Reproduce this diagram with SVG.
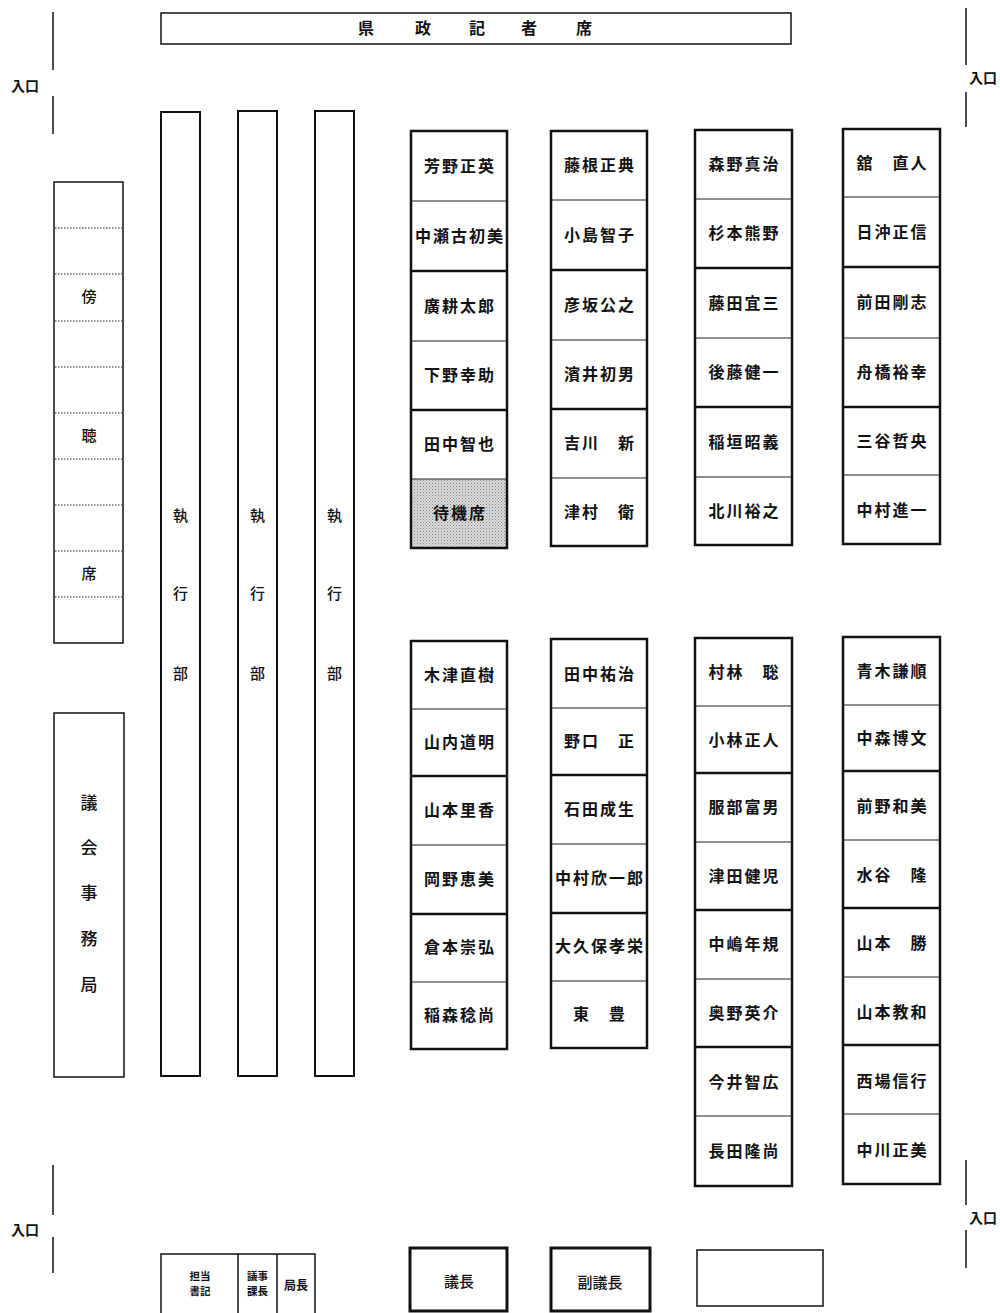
<svg xmlns="http://www.w3.org/2000/svg" width="1000" height="1313" viewBox="0 0 1000 1313">
<defs>
<pattern id="dots" width="3" height="3" patternUnits="userSpaceOnUse">
<rect width="3" height="3" fill="#dcdcdc"/>
<rect width="1" height="1" fill="#808080"/>
<rect x="1.5" y="1.5" width="1" height="1" fill="#999"/>
</pattern>
</defs>
<style>
text{font-family:"Noto Sans CJK JP","Noto Sans CJK SC",sans-serif;fill:#111;}
.nm{font-size:16px;font-weight:700;letter-spacing:2px;text-anchor:middle;}
.lb{font-size:15px;font-weight:500;text-anchor:middle;}
.big{font-size:17px;font-weight:500;text-anchor:middle;}
.ent{font-size:14px;font-weight:700;}
.sm{font-size:10.5px;font-weight:700;text-anchor:middle;}
.outer{fill:#fff;stroke:#111;stroke-width:2.5;}
.thick{stroke:#111;stroke-width:2.5;}
.thin{stroke:#222;stroke-width:1;}
.box{fill:#fff;stroke:#111;stroke-width:1.5;}
.exec{fill:#fff;stroke:#111;stroke-width:2;}
.dot{stroke:#222;stroke-width:1;stroke-dasharray:1.5 1.5;}
.wall{stroke:#111;stroke-width:1.5;}
</style>
<rect width="1000" height="1313" fill="#fff"/>

<g id="entrances">
<line class="wall" x1="53" y1="12" x2="53" y2="70"/>
<line class="wall" x1="53" y1="96" x2="53" y2="134"/>
<text class="ent" x="11" y="91">入口</text>
<line class="wall" x1="966" y1="8" x2="966" y2="65"/>
<line class="wall" x1="966" y1="92" x2="966" y2="127"/>
<text class="ent" x="969" y="83">入口</text>
<line class="wall" x1="53" y1="1165" x2="53" y2="1215"/>
<line class="wall" x1="53" y1="1237" x2="53" y2="1273"/>
<text class="ent" x="11" y="1235">入口</text>
<line class="wall" x1="966" y1="1160" x2="966" y2="1205"/>
<line class="wall" x1="966" y1="1230" x2="966" y2="1268"/>
<text class="ent" x="969" y="1223">入口</text>
</g>

<g id="press">
<rect class="box" x="161" y="13" width="630" height="31"/>
<text class="nm" x="367" y="34">県</text>
<text class="nm" x="424" y="34">政</text>
<text class="nm" x="478" y="34">記</text>
<text class="nm" x="530" y="34">者</text>
<text class="nm" x="585" y="34">席</text>
</g>

<g id="gallery">
<rect class="box" x="54" y="182" width="69" height="461"/>
<line class="dot" x1="55" y1="228" x2="122" y2="228"/>
<line class="dot" x1="55" y1="274" x2="122" y2="274"/>
<line class="dot" x1="55" y1="321" x2="122" y2="321"/>
<line class="dot" x1="55" y1="367" x2="122" y2="367"/>
<line class="dot" x1="55" y1="413" x2="122" y2="413"/>
<line class="dot" x1="55" y1="459" x2="122" y2="459"/>
<line class="dot" x1="55" y1="505" x2="122" y2="505"/>
<line class="dot" x1="55" y1="551" x2="122" y2="551"/>
<line class="dot" x1="55" y1="597" x2="122" y2="597"/>
<text class="lb" x="89" y="302">傍</text>
<text class="lb" x="89" y="441">聴</text>
<text class="lb" x="89" y="579">席</text>
</g>

<g id="secretariat">
<rect class="box" x="54" y="713" width="70" height="364"/>
<text class="big" x="89" y="809">議</text>
<text class="big" x="89" y="854">会</text>
<text class="big" x="89" y="899">事</text>
<text class="big" x="89" y="945">務</text>
<text class="big" x="89" y="991">局</text>
</g>

<g id="exec1">
<rect class="exec" x="161" y="112" width="39" height="964"/>
<text class="lb" x="180.5" y="521">執</text>
<text class="lb" x="180.5" y="599">行</text>
<text class="lb" x="180.5" y="679">部</text>
</g>
<g id="exec2">
<rect class="exec" x="238" y="111" width="39" height="965"/>
<text class="lb" x="257.5" y="521">執</text>
<text class="lb" x="257.5" y="599">行</text>
<text class="lb" x="257.5" y="679">部</text>
</g>
<g id="exec3">
<rect class="exec" x="315" y="111" width="39" height="965"/>
<text class="lb" x="334.5" y="521">執</text>
<text class="lb" x="334.5" y="599">行</text>
<text class="lb" x="334.5" y="679">部</text>
</g>

<g id="upper1">
<rect x="412" y="479" width="94" height="69" fill="url(#dots)"/>
<rect class="outer" x="411" y="131" width="96" height="417" style="fill:none"/>
<line class="thin" x1="411" y1="201" x2="507" y2="201"/>
<line class="thick" x1="411" y1="271" x2="507" y2="271"/>
<line class="thin" x1="411" y1="341" x2="507" y2="341"/>
<line class="thick" x1="411" y1="410" x2="507" y2="410"/>
<line class="thin" x1="411" y1="479" x2="507" y2="479"/>
<text class="nm" x="460" y="172">芳野正英</text>
<text class="nm" x="460" y="242">中瀬古初美</text>
<text class="nm" x="460" y="312">廣耕太郎</text>
<text class="nm" x="460" y="381">下野幸助</text>
<text class="nm" x="460" y="450">田中智也</text>
<text class="nm" x="460" y="519">待機席</text>
</g>

<g id="upper2">
<rect class="outer" x="551" y="131" width="96" height="415"/>
<line class="thin" x1="551" y1="200" x2="647" y2="200"/>
<line class="thick" x1="551" y1="270" x2="647" y2="270"/>
<line class="thin" x1="551" y1="340" x2="647" y2="340"/>
<line class="thick" x1="551" y1="409" x2="647" y2="409"/>
<line class="thin" x1="551" y1="478" x2="647" y2="478"/>
<text class="nm" x="600" y="171">藤根正典</text>
<text class="nm" x="600" y="241">小島智子</text>
<text class="nm" x="600" y="311">彦坂公之</text>
<text class="nm" x="600" y="380">濱井初男</text>
<text class="nm" x="600" y="449">吉川　新</text>
<text class="nm" x="600" y="518">津村　衛</text>
</g>

<g id="upper3">
<rect class="outer" x="695" y="130" width="97" height="415"/>
<line class="thin" x1="695" y1="199" x2="792" y2="199"/>
<line class="thick" x1="695" y1="268" x2="792" y2="268"/>
<line class="thin" x1="695" y1="338" x2="792" y2="338"/>
<line class="thick" x1="695" y1="407" x2="792" y2="407"/>
<line class="thin" x1="695" y1="477" x2="792" y2="477"/>
<text class="nm" x="744.5" y="170">森野真治</text>
<text class="nm" x="744.5" y="239">杉本熊野</text>
<text class="nm" x="744.5" y="309">藤田宜三</text>
<text class="nm" x="744.5" y="378">後藤健一</text>
<text class="nm" x="744.5" y="448">稲垣昭義</text>
<text class="nm" x="744.5" y="517">北川裕之</text>
</g>

<g id="upper4">
<rect class="outer" x="843" y="129" width="97" height="415"/>
<line class="thin" x1="843" y1="197" x2="940" y2="197"/>
<line class="thick" x1="843" y1="267" x2="940" y2="267"/>
<line class="thin" x1="843" y1="338" x2="940" y2="338"/>
<line class="thick" x1="843" y1="407" x2="940" y2="407"/>
<line class="thin" x1="843" y1="475" x2="940" y2="475"/>
<text class="nm" x="892.5" y="169">舘　直人</text>
<text class="nm" x="892.5" y="238">日沖正信</text>
<text class="nm" x="892.5" y="308">前田剛志</text>
<text class="nm" x="892.5" y="378">舟橋裕幸</text>
<text class="nm" x="892.5" y="447">三谷哲央</text>
<text class="nm" x="892.5" y="516">中村進一</text>
</g>

<g id="lower1">
<rect class="outer" x="411" y="641" width="96" height="408"/>
<line class="thin" x1="411" y1="709" x2="507" y2="709"/>
<line class="thick" x1="411" y1="776" x2="507" y2="776"/>
<line class="thin" x1="411" y1="845" x2="507" y2="845"/>
<line class="thick" x1="411" y1="914" x2="507" y2="914"/>
<line class="thin" x1="411" y1="982" x2="507" y2="982"/>
<text class="nm" x="460" y="681">木津直樹</text>
<text class="nm" x="460" y="748">山内道明</text>
<text class="nm" x="460" y="816">山本里香</text>
<text class="nm" x="460" y="885">岡野恵美</text>
<text class="nm" x="460" y="953">倉本崇弘</text>
<text class="nm" x="460" y="1021">稲森稔尚</text>
</g>

<g id="lower2">
<rect class="outer" x="551" y="639" width="96" height="409"/>
<line class="thin" x1="551" y1="708" x2="647" y2="708"/>
<line class="thick" x1="551" y1="775" x2="647" y2="775"/>
<line class="thin" x1="551" y1="844" x2="647" y2="844"/>
<line class="thick" x1="551" y1="913" x2="647" y2="913"/>
<line class="thin" x1="551" y1="981" x2="647" y2="981"/>
<text class="nm" x="600" y="680">田中祐治</text>
<text class="nm" x="600" y="747">野口　正</text>
<text class="nm" x="600" y="815">石田成生</text>
<text class="nm" x="600" y="884">中村欣一郎</text>
<text class="nm" x="600" y="952">大久保孝栄</text>
<text class="nm" x="600" y="1020">東　豊</text>
</g>

<g id="lower3">
<rect class="outer" x="695" y="638" width="97" height="548"/>
<line class="thin" x1="695" y1="706" x2="792" y2="706"/>
<line class="thick" x1="695" y1="773" x2="792" y2="773"/>
<line class="thin" x1="695" y1="842" x2="792" y2="842"/>
<line class="thick" x1="695" y1="910" x2="792" y2="910"/>
<line class="thin" x1="695" y1="979" x2="792" y2="979"/>
<line class="thick" x1="695" y1="1047" x2="792" y2="1047"/>
<line class="thin" x1="695" y1="1116" x2="792" y2="1116"/>
<text class="nm" x="744.5" y="678">村林　聡</text>
<text class="nm" x="744.5" y="746">小林正人</text>
<text class="nm" x="744.5" y="813">服部富男</text>
<text class="nm" x="744.5" y="882">津田健児</text>
<text class="nm" x="744.5" y="950">中嶋年規</text>
<text class="nm" x="744.5" y="1019">奥野英介</text>
<text class="nm" x="744.5" y="1088">今井智広</text>
<text class="nm" x="744.5" y="1157">長田隆尚</text>
</g>

<g id="lower4">
<rect class="outer" x="843" y="637" width="97" height="547"/>
<line class="thin" x1="843" y1="705" x2="940" y2="705"/>
<line class="thick" x1="843" y1="771" x2="940" y2="771"/>
<line class="thin" x1="843" y1="840" x2="940" y2="840"/>
<line class="thick" x1="843" y1="908" x2="940" y2="908"/>
<line class="thin" x1="843" y1="977" x2="940" y2="977"/>
<line class="thick" x1="843" y1="1045" x2="940" y2="1045"/>
<line class="thin" x1="843" y1="1114" x2="940" y2="1114"/>
<text class="nm" x="892.5" y="677">青木謙順</text>
<text class="nm" x="892.5" y="744">中森博文</text>
<text class="nm" x="892.5" y="812">前野和美</text>
<text class="nm" x="892.5" y="881">水谷　隆</text>
<text class="nm" x="892.5" y="949">山本　勝</text>
<text class="nm" x="892.5" y="1018">山本教和</text>
<text class="nm" x="892.5" y="1087">西場信行</text>
<text class="nm" x="892.5" y="1156">中川正美</text>
</g>

<g id="staff">
<rect class="box" x="161" y="1254" width="154" height="70"/>
<line class="wall" x1="238" y1="1254" x2="238" y2="1313"/>
<line class="wall" x1="277" y1="1254" x2="277" y2="1313"/>
<text class="sm"><tspan x="200" y="1280">担当</tspan><tspan x="200" y="1295">書記</tspan></text>
<text class="sm"><tspan x="257.5" y="1280">議事</tspan><tspan x="257.5" y="1295">課長</tspan></text>
<text class="sm" style="font-size:12px" x="296" y="1290">局長</text>
</g>

<g id="chair">
<rect x="410" y="1248" width="97" height="63" fill="#fff" stroke="#111" stroke-width="3"/>
<text class="lb" x="459" y="1287">議長</text>
</g>
<g id="vicechair">
<rect x="551" y="1248" width="99" height="63" fill="#fff" stroke="#111" stroke-width="3"/>
<text class="lb" x="600" y="1288">副議長</text>
</g>
<g id="blank">
<rect class="box" x="697" y="1250" width="126" height="56"/>
</g>
</svg>
